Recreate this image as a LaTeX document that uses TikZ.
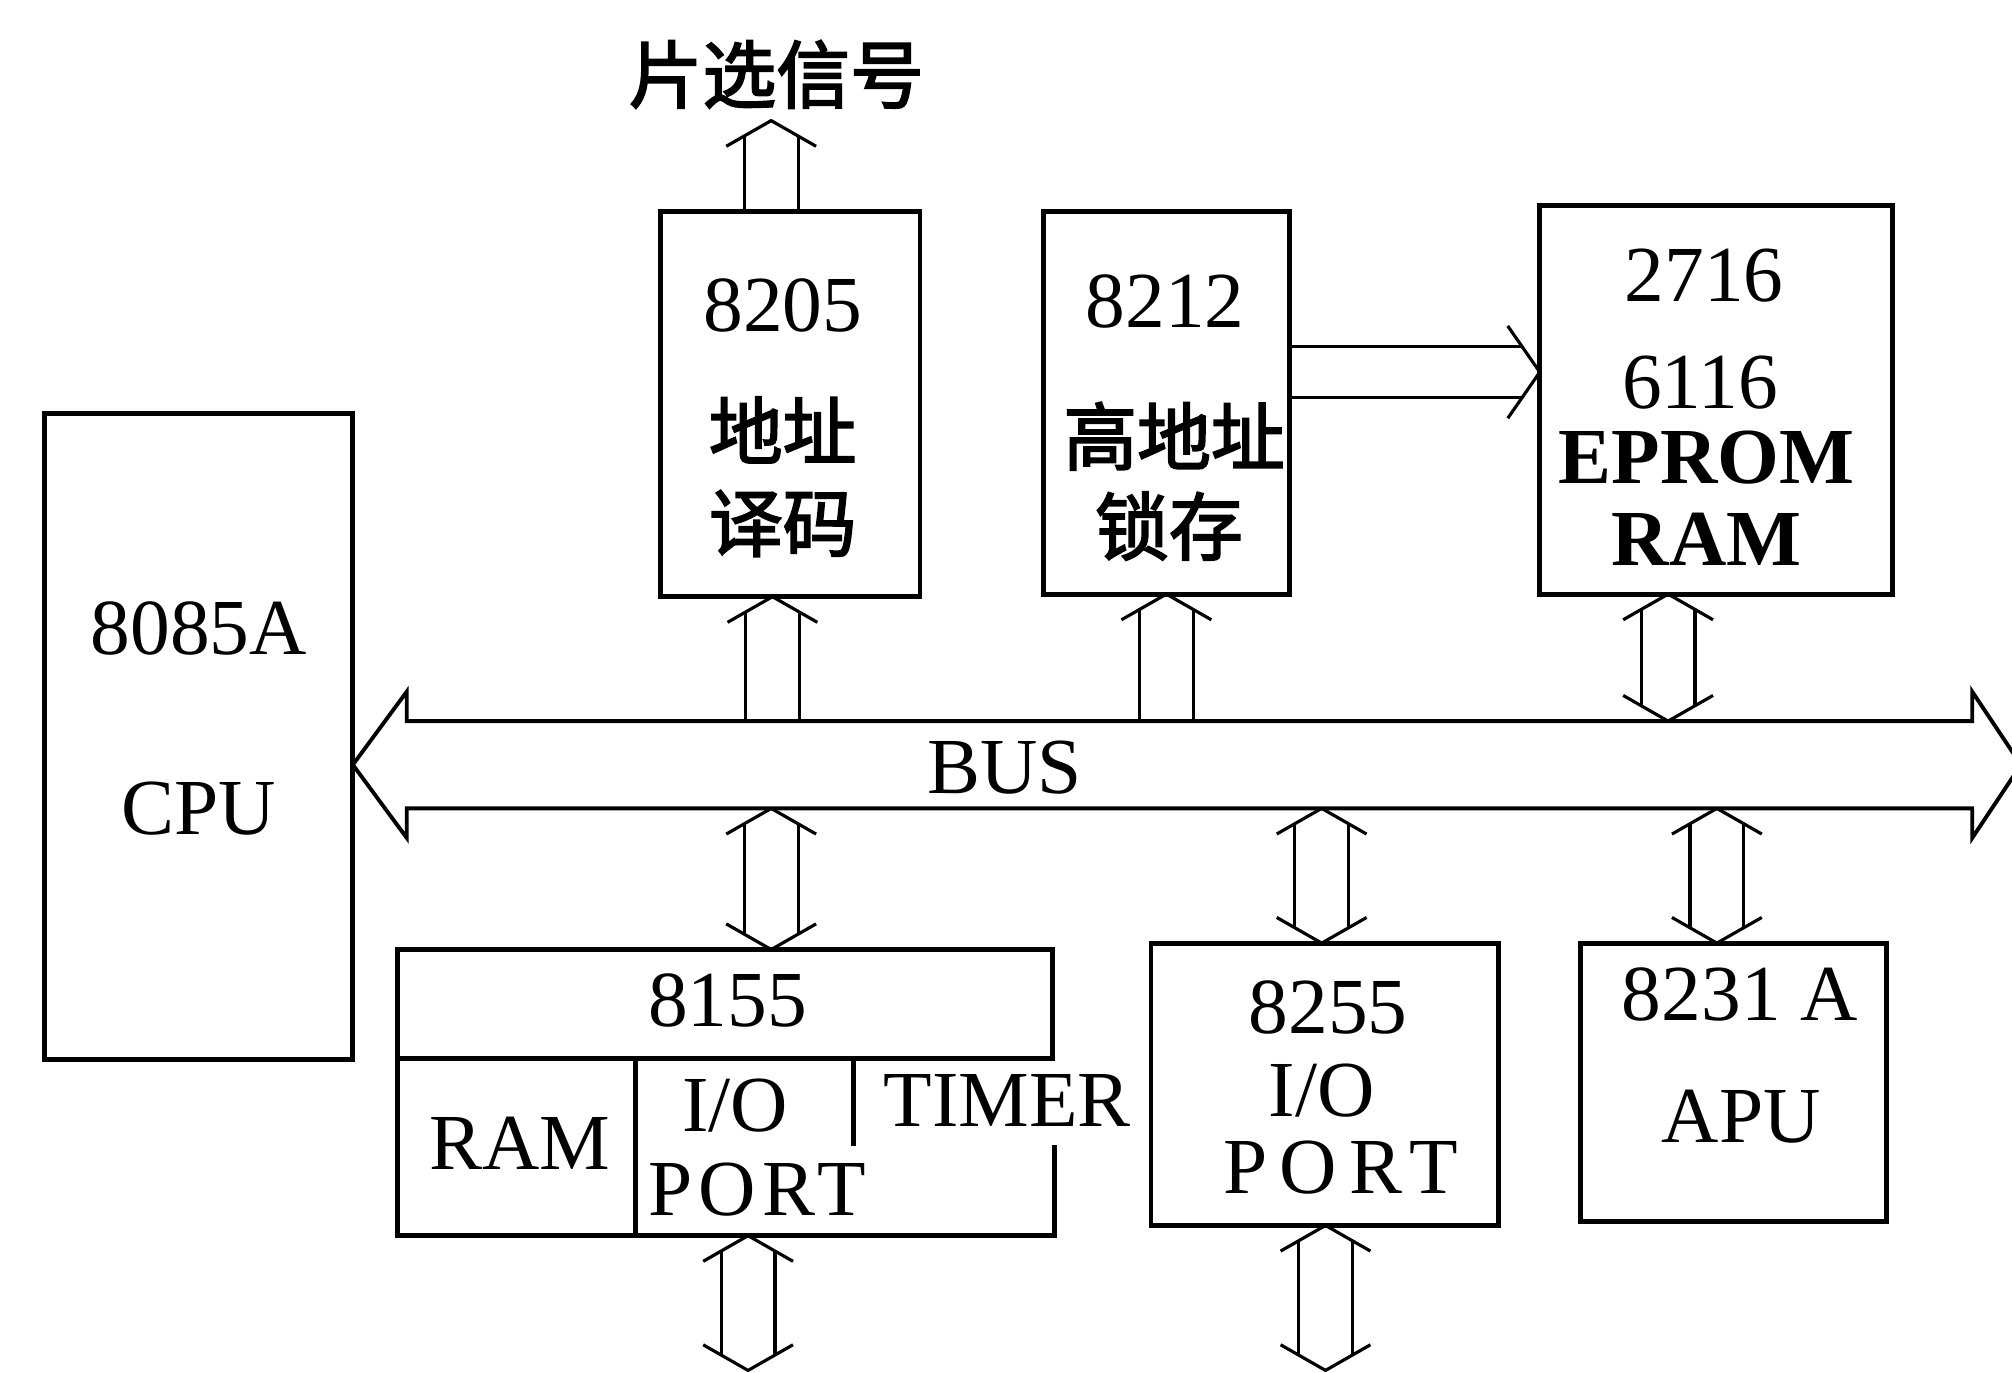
\documentclass[tikz,border=0pt]{standalone}
\usepackage{fontspec}
\setmainfont{Liberation Serif}
\newfontfamily\cjk[FakeBold=2.5]{Noto Sans CJK SC}
\usetikzlibrary{calc,fit}
\tikzset{
  box/.style={draw, line width=1.4pt, inner sep=0pt, outer sep=0pt},
  lbl/.style={inner sep=0pt, font=\fontsize{22.6}{26}\selectfont},
  blbl/.style={inner sep=0pt, font=\bfseries\fontsize{22.6}{26}\selectfont},
  cjklbl/.style={inner sep=0pt, font=\cjk\fontsize{21}{24}\selectfont},
  hol/.style={line width=0.9pt, line join=round},
  busline/.style={line width=1.1pt, line join=miter},
}
% up arrow: #1 tip, #2 base
\newcommand\uparr[2]{%
  \draw[hol] ($(#1)+(-35,20)$) -- (#1) -- ($(#1)+(35,20)$);
  \draw[hol] ($(#1)+(-21,12)$) -- ($(#2)+(-21,0)$);
  \draw[hol] ($(#1)+(21,12)$) -- ($(#2)+(21,0)$);
}
% double vertical arrow: #1 top tip, #2 bottom tip
\newcommand\dblarr[2]{%
  \draw[hol] ($(#1)+(-35,20)$) -- (#1) -- ($(#1)+(35,20)$);
  \draw[hol] ($(#2)+(-35,-20)$) -- (#2) -- ($(#2)+(35,-20)$);
  \draw[hol] ($(#1)+(-21,12)$) -- ($(#2)+(-21,-12)$);
  \draw[hol] ($(#1)+(21,12)$) -- ($(#2)+(21,-12)$);
}
% right arrow: #1 start, #2 tip
\newcommand\rarr[2]{%
  \draw[hol] ($(#2)+(-25,-36)$) -- (#2) -- ($(#2)+(-25,36)$);
  \draw[hol] ($(#1)+(0,-20)$) -- ($(#2)+(-14,-20)$);
  \draw[hol] ($(#1)+(0,20)$) -- ($(#2)+(-14,20)$);
}
\begin{document}
\begin{tikzpicture}[x=0.012832cm,y=-0.012832cm]
\useasboundingbox (0,0) rectangle (1568,1070);
% boxes
\node[box, fit={(35,322)(275,826)}] (cpu) {};
\node[box, fit={(515,165)(717,465)}] (b8205) {};
\node[box, fit={(813,165)(1005,463)}] (b8212) {};
\node[box, fit={(1200,160)(1475,463)}] (b2716) {};
\node[box, fit={(310,740)(820,825)}] (b8155) {};
\node[inner sep=0pt, outer sep=0pt, fit={(310,825)(822,963)}] (b8155b) {};
\draw[box] (b8155b.north west) -- (b8155b.south west) -- (b8155b.south east) -- (b8155b.east |- 0,892);
\draw[box] (495,825) -- (495,963);
\draw[box] (665,825) -- (665,893);
\node[box, fit={(897,735)(1168,955)}] (b8255) {};
\node[box, fit={(1232,735)(1470,952)}] (b8231) {};

% texts
\node[lbl] (t8085) at (155,490) {8085A};
\node[lbl] (tcpu) at (155,630) {CPU};
\node[cjklbl] (tsel) at (605,58) {片选信号};
\node[lbl] (t8205) at (610,238) {8205};
\node[cjklbl] (tdz) at (610,335) {地址};
\node[cjklbl] (tym) at (610,408) {译码};
\node[lbl] (t8212) at (908,235) {8212};
\node[cjklbl] (tgdz) at (915,340) {高地址};
\node[cjklbl] (tsc) at (911,410) {锁存};
\node[lbl] (t2716) at (1328,215) {2716};
\node[lbl] (t6116) at (1325,298) {6116};
\node[blbl] (teprom) at (1330,357) {EPROM};
\node[blbl] (tram1) at (1330,420) {RAM};
\node[lbl] (tbus) at (783,598) {BUS};
\node[lbl] (t8155) at (567,780) {8155};
\node[lbl] (tram2) at (405,891) {RAM};
\node[lbl] (tio1) at (573,862) {I/O};
\node[lbl] (tport1) at (590,927) {\addfontfeature{LetterSpace=8}PORT};
\node[lbl] (ttimer) at (785,858) {TIMER};
\node[lbl] (t8255) at (1035,785) {8255};
\node[lbl] (tio2) at (1030,850) {I/O};
\node[lbl] (tport2) at (1045,910) {\addfontfeature{LetterSpace=15}PORT};
\node[lbl] (t8231) at (1356,775) {8231 A};
\node[lbl] (tapu) at (1357,870) {APU};

% bus
\coordinate (bustop) at (0,562);
\coordinate (busbot) at (0,630);
\coordinate (busL) at (cpu.east |- 0,596);
\coordinate (busR) at (1575,596);
\draw[busline] (busL) -- ($(busL)+(42,-57)$) -- ($(busL)+(42,-34)$)
  -- ($(busR)+(-38,-34)$) -- ($(busR)+(-38,-57)$) -- (busR)
  -- ($(busR)+(-38,57)$) -- ($(busR)+(-38,34)$)
  -- ($(busL)+(42,34)$) -- ($(busL)+(42,57)$) -- cycle;

% arrows
\coordinate (s1) at (601,94);
\coordinate (s0) at (s1 |- b8205.north);
\uparr{s1}{s0}
\coordinate (a1t) at (602,0 |- b8205.south);
\coordinate (a1b) at (a1t |- bustop);
\uparr{a1t}{a1b}
\coordinate (a2t) at (909,0 |- b8212.south);
\coordinate (a2b) at (a2t |- bustop);
\uparr{a2t}{a2b}
\coordinate (a3t) at (1300,0 |- b2716.south);
\coordinate (a3b) at (a3t |- bustop);
\dblarr{a3t}{a3b}
\coordinate (a4t) at (601,0 |- busbot);
\coordinate (a4b) at (a4t |- b8155.north);
\dblarr{a4t}{a4b}
\coordinate (a5t) at (1030,0 |- busbot);
\coordinate (a5b) at (a5t |- b8255.north);
\dblarr{a5t}{a5b}
\coordinate (a6t) at (1338,0 |- busbot);
\coordinate (a6b) at (a6t |- b8231.north);
\dblarr{a6t}{a6b}
\coordinate (a7t) at (583,0 |- b8155b.south);
\coordinate (a7b) at (583,1068);
\dblarr{a7t}{a7b}
\coordinate (a8t) at (1033,0 |- b8255.south);
\coordinate (a8b) at (1033,1068);
\dblarr{a8t}{a8b}
\coordinate (h1s) at (b8212.east |- 0,290);
\coordinate (h1t) at (b2716.west |- 0,290);
\rarr{h1s}{h1t}
\end{tikzpicture}
\end{document}
